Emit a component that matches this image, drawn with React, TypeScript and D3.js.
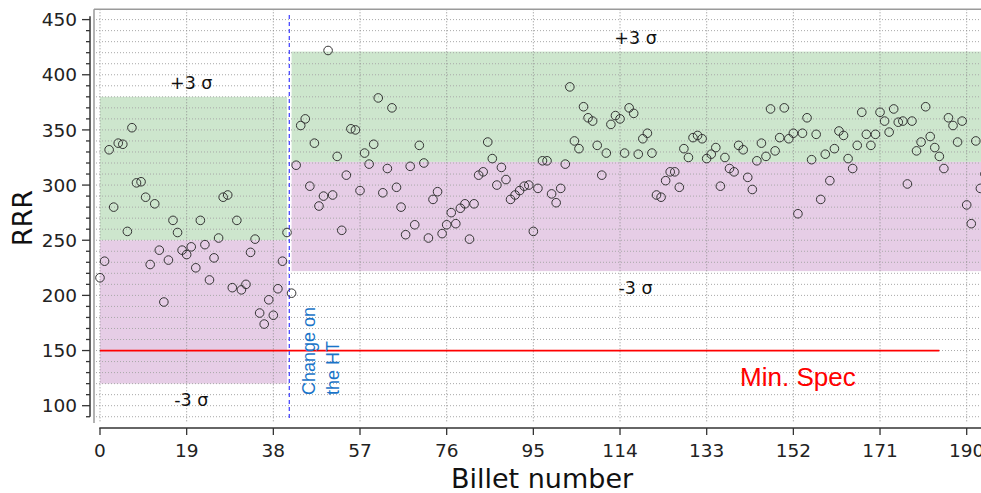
import React from "react";
import * as d3 from "d3";

const WIDTH = 981;
const HEIGHT = 493;

// RRR measured on each billet, in billet order (billet 0, 1, 2, ...)
const billetRRR = [
  216, 231, 332, 280, 338, 337, 258, 352, 302, 303,
  289, 228, 283, 241, 194, 232, 268, 257, 241, 237,
  244, 225, 268, 246, 214, 234, 252, 289, 291, 207,
  268, 205, 210, 239, 251, 184, 174, 196, 182, 206,
  231, 257, 202, 318, 354, 360, 299, 338, 281, 290,
  422, 291, 326, 259, 309, 351, 350, 295, 329, 319,
  337, 379, 293, 315, 370, 298, 280, 255, 317, 264,
  336, 320, 252, 287, 294, 256, 264, 275, 265, 279,
  283, 251, 283, 309, 312, 339, 324, 300, 316, 305,
  287, 291, 295, 299, 300, 258, 297, 322, 322, 292,
  284, 297, 319, 389, 340, 333, 371, 361, 358, 336,
  309, 329, 355, 363, 360, 329, 370, 365, 328, 342,
  347, 329, 291, 289, 304, 312, 312, 298, 333, 325,
  343, 345, 342, 324, 328, 334, 299, 325, 315, 312,
  336, 332, 307, 296, 322, 338, 326, 369, 331, 343,
  370, 342, 347, 274, 347, 361, 323, 346, 287, 328,
  304, 333, 349, 345, 324, 315, 336, 366, 346, 336,
  346, 366, 358, 348, 369, 357, 358, 301, 358, 331,
  339, 371, 344, 334, 326, 315, 361, 354, 339, 358,
  282, 265, 340, 297, 310,
];

// Control bands before and after the heat-treatment change
const sectionStart = [0, 42];
const sectionEnd = [41, 200];
const sectionUpper = [380, 421];
const sectionMean = [250, 321];
const sectionLower = [120, 222];
const upperLabelAt = [20, 117.4];

const xTicks = [0, 19, 38, 57, 76, 95, 114, 133, 152, 171, 190];
const yTicks = [100, 150, 200, 250, 300, 350, 400, 450];
const yMinorTicks = d3.range(90, 451, 10);

const htChangeAt = 41.5;
const minSpecValue = 150;
const minSpecRange = [0, 184];

const tickFont = "'DejaVu Sans', sans-serif";
const noteFont = "'Liberation Sans', Arial, sans-serif";

export default function App() {
  const x = d3.scaleLinear().domain([0, 190]).range([100, 966.7]);
  const y = d3.scaleLinear().domain([100, 450]).range([405.7, 19.6]);

  const frameLeft = 94;
  const frameTop = 9.3;
  const frameBottom = 423;
  const xAxisY = 428;
  const yAxisX = 90;

  return (
    <svg
      width={WIDTH}
      height={HEIGHT}
      style={{ position: "absolute", left: 0, top: 0, display: "block", background: "#fff" }}
    >
      {/* control bands */}
      {sectionStart.map((s, i) => (
        <g key={"band" + i}>
          <rect
            x={x(s)}
            y={y(sectionUpper[i])}
            width={x(sectionEnd[i]) - x(s)}
            height={y(sectionMean[i]) - y(sectionUpper[i])}
            fill="#cde6cd"
          />
          <rect
            x={x(s)}
            y={y(sectionMean[i])}
            width={x(sectionEnd[i]) - x(s)}
            height={y(sectionLower[i]) - y(sectionMean[i])}
            fill="#e6cde6"
          />
        </g>
      ))}

      {/* grid */}
      {yMinorTicks.map((v) => (
        <line
          key={"hg" + v}
          x1={frameLeft + 2}
          x2={WIDTH}
          y1={y(v)}
          y2={y(v)}
          stroke="#a8a8a8"
          strokeWidth={1}
          strokeDasharray="1,2"
        />
      ))}
      {xTicks.map((v) => (
        <line
          key={"vg" + v}
          x1={x(v)}
          x2={x(v)}
          y1={frameTop}
          y2={frameBottom}
          stroke="#8c8c8c"
          strokeWidth={1}
          strokeDasharray="1,2"
        />
      ))}

      {/* plot frame */}
      <line x1={frameLeft} x2={WIDTH} y1={frameTop} y2={frameTop} stroke="#9a9a9a" strokeWidth={1.5} />
      <line x1={frameLeft} x2={frameLeft} y1={frameTop} y2={frameBottom} stroke="#9a9a9a" strokeWidth={1.5} />

      {/* minimum specification */}
      <line
        x1={x(minSpecRange[0])}
        x2={x(minSpecRange[1])}
        y1={y(minSpecValue)}
        y2={y(minSpecValue)}
        stroke="#ff0000"
        strokeWidth={1.8}
      />
      <text
        x={x(153)}
        y={y(minSpecValue) + 35}
        textAnchor="middle"
        fontFamily={noteFont}
        fontSize={26}
        fill="#ff0000"
      >
        Min. Spec
      </text>

      {/* heat-treatment change */}
      <line
        x1={x(htChangeAt)}
        x2={x(htChangeAt)}
        y1={15}
        y2={418}
        stroke="#4a4aff"
        strokeWidth={1.3}
        strokeDasharray="4,3"
      />
      <g transform={`translate(${x(htChangeAt) + 25.5},395) rotate(-90)`}>
        <text x={0} y={0} fontFamily={noteFont} fontSize={18} fill="#1a74c8">
          Change on
        </text>
        <text x={0} y={24.5} fontFamily={noteFont} fontSize={18} fill="#1a74c8">
          the HT
        </text>
      </g>

      {/* ±3σ labels */}
      {sectionStart.map((s, i) => (
        <g key={"sig" + i} fontFamily={tickFont} fontSize={17.5} fill="#111" textAnchor="middle">
          <text x={x(upperLabelAt[i])} y={y(sectionUpper[i]) - 7.5}>+3 σ</text>
          <text x={x(upperLabelAt[i])} y={y(sectionLower[i]) + 22.5}>-3 σ</text>
        </g>
      ))}

      {/* measurements */}
      {billetRRR.map((v, i) => (
        <circle
          key={"p" + i}
          cx={x(i)}
          cy={y(v)}
          r={4.3}
          fill="none"
          stroke="#333"
          strokeWidth={1}
        />
      ))}

      {/* y axis */}
      <line x1={yAxisX} x2={yAxisX} y1={y(453)} y2={y(90)} stroke="#333" strokeWidth={1.5} />
      {yMinorTicks.map((v) => (
        <line
          key={"ymt" + v}
          x1={yAxisX - (v % 50 === 0 ? 8 : 4)}
          x2={yAxisX}
          y1={y(v)}
          y2={y(v)}
          stroke="#333"
          strokeWidth={1.3}
        />
      ))}
      {yTicks.map((v) => (
        <text
          key={"yl" + v}
          x={yAxisX - 13}
          y={y(v)}
          dy="0.36em"
          textAnchor="end"
          fontFamily={tickFont}
          fontSize={18.5}
          fill="#222"
        >
          {v}
        </text>
      ))}
      <text
        transform={`translate(31.5,${y(250) - 22}) rotate(-90)`}
        textAnchor="middle"
        fontFamily={tickFont}
        fontSize={27}
        fill="#111"
      >
        RRR
      </text>

      {/* x axis */}
      <line x1={x(0) - 0.7} x2={WIDTH} y1={xAxisY} y2={xAxisY} stroke="#333" strokeWidth={1.5} />
      {xTicks.map((v) => (
        <g key={"xt" + v}>
          <line x1={x(v)} x2={x(v)} y1={xAxisY} y2={xAxisY + 7} stroke="#333" strokeWidth={1.3} />
          <text
            x={x(v)}
            y={456.5}
            textAnchor="middle"
            fontFamily={tickFont}
            fontSize={18.5}
            fill="#222"
          >
            {v}
          </text>
        </g>
      ))}
      <text
        x={542}
        y={488}
        textAnchor="middle"
        fontFamily={tickFont}
        fontSize={27}
        fill="#111"
      >
        Billet number
      </text>
    </svg>
  );
}
